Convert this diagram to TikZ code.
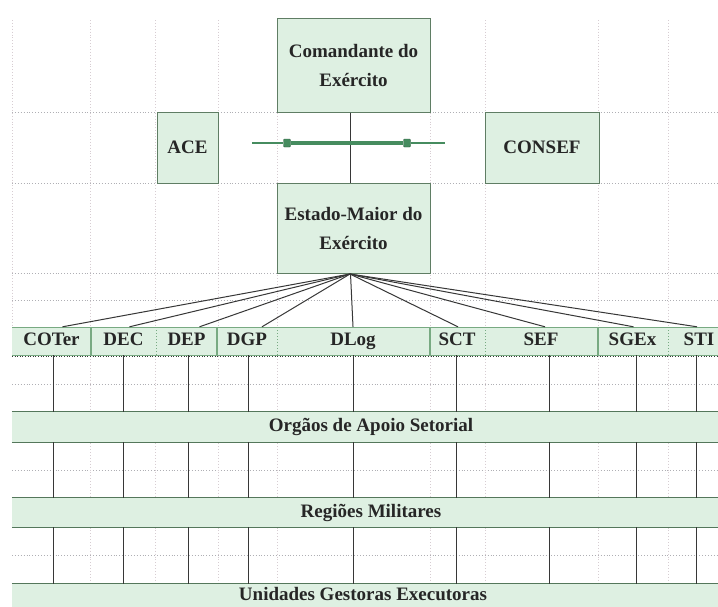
\documentclass[tikz,border=0pt]{standalone}
\usepackage{fontspec}
\setmainfont{Liberation Serif}
\definecolor{boxfill}{RGB}{222,240,226}
\definecolor{boxedge}{RGB}{95,125,100}
\definecolor{darkline}{RGB}{55,55,55}
\definecolor{gridh}{RGB}{175,175,180}
\definecolor{gridv}{RGB}{215,205,210}
\definecolor{arrowgreen}{RGB}{70,140,95}
\definecolor{celledge}{RGB}{120,170,130}
\begin{document}
\begin{tikzpicture}[x=1pt,y=-1pt,
  lbl/.style={font=\fontsize{19}{29}\selectfont\bfseries, text=black!85},
  orgbox/.style={lbl, draw=boxedge, line width=1pt, fill=boxfill, inner sep=0pt, align=center},
  cell/.style={lbl, fill=boxfill, inner sep=0pt, minimum height=28pt, text height=13pt, text depth=4pt},
  band/.style={lbl, fill=boxfill, inner sep=0pt, minimum width=718pt},
  gline/.style={gridh, dotted, line width=0.9pt},
  vline/.style={gridv, dotted, line width=0.9pt},
  conn/.style={darkline, line width=1pt},
  bulge/.style={fill=arrowgreen, draw=arrowgreen!70!black, minimum width=7pt, minimum height=8pt, inner sep=0pt, rounded corners=1pt}
]
\useasboundingbox (0,0) rectangle (718,606);
\clip (0,0) rectangle (718,606);
\fill[white] (0,0) rectangle (718,606);
% grid
\foreach \y in {112,183,273,300,384,470,555}
  \draw[gline] (12,\y) -- (718,\y);
\draw[vline] (12,20) -- (12,327);
\foreach \x in {90,155,218,277,430,485,598,668}
  \draw[vline] (\x,20) -- (\x,606);
% top boxes
\node[orgbox, minimum width=153pt, minimum height=94pt] (cmd) at (353.5,65) {Comandante do\\Exército};
\node[orgbox, minimum width=61pt, minimum height=71pt] (ace) at (187.5,147.5) {ACE};
\node[orgbox, minimum width=114pt, minimum height=71pt] (consef) at (542,147.5) {CONSEF};
\node[orgbox, minimum width=153pt, minimum height=90pt] (em) at (353.5,228) {Estado-Maior do\\Exército};
% link between commander and staff
\draw[conn] ([xshift=-3pt]cmd.south) -- ([xshift=-3pt]em.north);
% green double arrow
\coordinate (lt) at (252,143);
\coordinate (rt) at (445,143);
\node[bulge] (la) at (287,143) {};
\node[bulge] (ra) at (407,143) {};
\draw[arrowgreen, line width=2.2pt] (lt) -- (la);
\draw[arrowgreen, line width=2.2pt] (ra) -- (rt);
\draw[arrowgreen, line width=4pt] (la) -- (ra);
% row of directorates
\fill[boxfill] (12,327) rectangle (718,355);
\node[cell, minimum width=79pt] (coter) at (51.5,341) {COTer};
\node[cell, minimum width=65pt] (dec) at (123.5,341) {DEC};
\node[cell, minimum width=61pt] (dep) at (186.5,341) {DEP};
\node[cell, minimum width=60pt] (dgp) at (247,341) {DGP};
\node[cell, minimum width=152pt] (dlog) at (353,341) {DLog};
\node[cell, minimum width=56pt] (sct) at (457,341) {SCT};
\node[cell, minimum width=112pt] (sef) at (541,341) {SEF};
\node[cell, minimum width=71pt] (sgex) at (632.5,341) {SGEx};
\node[cell, minimum width=60pt] (sti) at (699,341) {STI};
\draw[celledge, line width=1pt] (12,327) -- (718,327);
\draw[celledge, line width=1pt] (12,355) -- (718,355);
\draw[darkline, dotted, line width=0.6pt] (12,356) -- (718,356);
\foreach \x in {91,217,430,598}
  \draw[celledge, line width=1.2pt] (\x,327) -- (\x,355);
\foreach \x in {156,277,485,668}
  \draw[celledge, dotted, line width=1pt] (\x,327) -- (\x,355);
% bands
\node[band, minimum height=30pt] (b1) at (371,427) {Orgãos de Apoio Setorial};
\node[band, minimum height=29pt] (b2) at (371,512.5) {Regiões Militares};
\node[band, minimum height=32pt] (b3) at (371,600) {};
\node[lbl] (b3t) at (363,594) {Unidades Gestoras Executoras};
\foreach \b in {b1,b2,b3}{
  \draw[celledge!70!black, line width=1pt] (\b.north west) -- (\b.north east);
}
\foreach \b in {b1,b2}{
  \draw[celledge!70!black, line width=1pt] (\b.south west) -- (\b.south east);
}
% fan from staff to directorates
\coordinate (hub) at (350,274);
\draw[conn] (hub) -- ([xshift=11pt]coter.north);
\draw[conn] (hub) -- ([xshift=6pt]dec.north);
\draw[conn] (hub) -- ([xshift=13pt]dep.north);
\draw[conn] (hub) -- ([xshift=15pt]dgp.north);
\draw[conn] ([xshift=-3pt]em.south) -- (dlog.north);
\draw[conn] (hub) -- ([xshift=1pt]sct.north);
\draw[conn] (hub) -- ([xshift=4pt]sef.north);
\draw[conn] (hub) -- ([xshift=1pt]sgex.north);
\draw[conn] (hub) -- ([xshift=-2pt]sti.north);
% vertical lines through the rows
\foreach \n/\s in {coter/1.5,dec/-0.5,dep/1.5,dgp/1,dlog/0,sct/-1,sef/8,sgex/3.5,sti/-3}{
  \draw[conn] ([xshift=\s pt]\n.south) -- ([xshift=\s pt]\n.south |- b1.north);
  \draw[conn] ([xshift=\s pt]\n.south |- b1.south) -- ([xshift=\s pt]\n.south |- b2.north);
  \draw[conn] ([xshift=\s pt]\n.south |- b2.south) -- ([xshift=\s pt]\n.south |- b3.north);
}
\end{tikzpicture}
\end{document}
